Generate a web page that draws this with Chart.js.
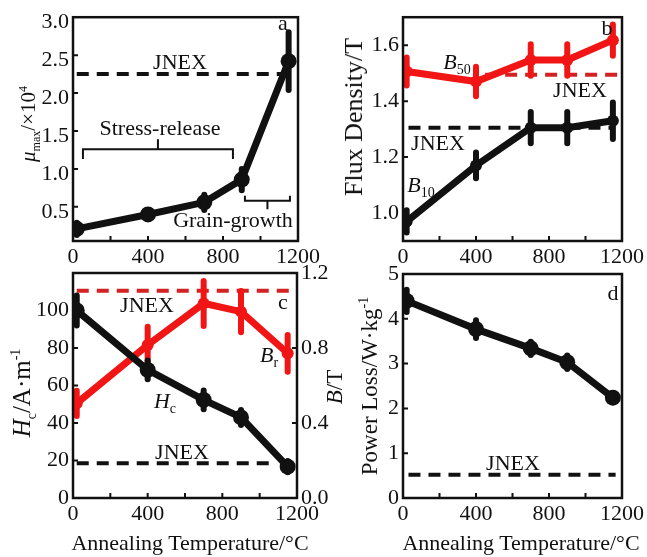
<!DOCTYPE html>
<html>
<head>
<meta charset="utf-8">
<script src="https://cdn.jsdelivr.net/npm/chart.js@4.4.0/dist/chart.umd.min.js"></script>
<style>
body { margin: 0; background: #fff; }
#wrap { position: relative; width: 647px; height: 557px; font-family: 'Liberation Serif', 'Times New Roman', serif; color: #111; }
canvas { position: absolute; left: 0; top: 0; }
.t { position: absolute; font-size: 22px; white-space: nowrap; line-height: 1; transform: translate(-50%, -50%); }
.v { transform: translate(-50%, -50%) rotate(-90deg); }
.t sub, .t sup { font-size: 14px; line-height: 0; }
.s sub, .s sup { font-size: 12px; }
i { font-style: italic; }
</style>
</head>
<body>
<div id="wrap">
  <canvas id="ca" width="647" height="557"></canvas>
  <canvas id="cb" width="647" height="557"></canvas>
  <canvas id="cc" width="647" height="557"></canvas>
  <canvas id="cd" width="647" height="557"></canvas>

  <!-- axis titles -->
  <div class="t v s" style="left:28px;top:124px;font-size:21px"><i>μ</i><sub>max</sub>/×10<sup>4</sup></div>
  <div class="t v" style="left:354px;top:117px;font-size:26px">Flux Density/T</div>
  <div class="t v" style="left:21px;top:393px;font-size:25px"><i>H</i><sub>c</sub>/A·m<sup>-1</sup></div>
  <div class="t v" style="left:334px;top:387px;font-size:23px"><i>B</i>/T</div>
  <div class="t v" style="left:369px;top:386px;font-size:23px">Power Loss/W·kg<sup>-1</sup></div>
  <div class="t" style="left:190px;top:543px">Annealing Temperature/°C</div>
  <div class="t" style="left:521px;top:543px">Annealing Temperature/°C</div>

  <!-- panel a -->
  <div class="t" style="left:180px;top:62px">JNEX</div>
  <div class="t" style="left:283px;top:23px">a</div>
  <div class="t" style="left:160px;top:128px">Stress-release</div>
  <div class="t" style="left:233px;top:220px">Grain-growth</div>

  <!-- panel b -->
  <div class="t" style="left:607px;top:28px">b</div>
  <div class="t" style="left:457px;top:62px"><i>B</i><sub>50</sub></div>
  <div class="t" style="left:580px;top:90px">JNEX</div>
  <div class="t" style="left:438px;top:143px">JNEX</div>
  <div class="t" style="left:421px;top:185px"><i>B</i><sub>10</sub></div>

  <!-- panel c -->
  <div class="t" style="left:147px;top:305px">JNEX</div>
  <div class="t" style="left:283px;top:302px">c</div>
  <div class="t" style="left:269px;top:355px"><i>B</i><sub>r</sub></div>
  <div class="t" style="left:165px;top:401px"><i>H</i><sub>c</sub></div>
  <div class="t" style="left:182px;top:452px">JNEX</div>

  <!-- panel d -->
  <div class="t" style="left:613px;top:293px">d</div>
  <div class="t" style="left:513px;top:463px">JNEX</div>
</div>

<script>
// annealing temperatures (°C)
const temps = [20, 400, 700, 900, 1150];
const xTicks = [0, 400, 800, 1200];
const xMinor = [200, 400, 600, 800, 1000];

// a: maximum permeability (x10^4)
const muMax = [0.21, 0.40, 0.56, 0.86, 2.42];
const muErr = [0.08, 0.06, 0.10, 0.14, 0.38];
const muJnex = 2.25;
const muJnexX = [20, 1160];
const muTicks = [0.5, 1.0, 1.5, 2.0, 2.5, 3.0];

// b: flux density (T)
const b10 = [0.97, 1.17, 1.305, 1.305, 1.33];
const b10Err = [0.04, 0.046, 0.056, 0.056, 0.065];
const b50 = [1.506, 1.47, 1.547, 1.547, 1.618];
const b50Err = [0.05, 0.053, 0.056, 0.056, 0.056];
const b10Jnex = 1.305;
const b10JnexX = [30, 1150];
const b50Jnex = 1.494;
const b50JnexX = [450, 1180];
const bTicks = [1.0, 1.2, 1.4, 1.6];

// c: coercivity (A/m) and remanence (T)
const hc = [100, 68.3, 52.3, 43, 16.7];
const hcErr = [8, 5, 5, 4, 3];
const br = [0.505, 0.816, 1.038, 0.994, 0.772];
const brErr = [0.067, 0.098, 0.12, 0.11, 0.098];
const hcJnex = 18.5;
const hcJnexX = [20, 1050];
const brJnex = 1.106;
const brJnexX = [20, 1200];
const hcTicks = [0, 20, 40, 60, 80, 100];
const brTicks = [0.0, 0.4, 0.8, 1.2];

// d: power loss (W/kg)
const loss = [4.40, 3.77, 3.34, 3.03, 2.24];
const lossErr = [0.25, 0.2, 0.15, 0.15, 0.1];
const lossJnex = 0.52;
const lossJnexX = [30, 1165];
const lossTicks = [0, 1, 2, 3, 4, 5];

const BLACK = '#111111';
const RED = '#f21515';
const RED_DASH = '#d42222';
const FONT = { family: "'Liberation Serif', 'Times New Roman', serif", size: 22 };
const W = 647, H = 557;
const Y_W = 60, Y1_W = 50, X_H = 30;

function pts(ys) {
  return temps.map((t, i) => ({ x: t, y: ys[i] }));
}

function series(ys, errs, color, axis, radius) {
  return {
    data: pts(ys), errs: errs, yAxisID: axis || 'y',
    borderColor: color, backgroundColor: color,
    borderWidth: 7, pointRadius: radius || 8, pointBorderWidth: 0
  };
}

function jnex(val, xs, color, axis) {
  return {
    data: [{ x: xs[0], y: val }, { x: xs[1], y: val }], yAxisID: axis || 'y',
    borderColor: color, borderWidth: 4, borderDash: [12, 8], pointRadius: 0
  };
}

// inward ticks, frame and error bars
const framePlugin = {
  id: 'frame',
  afterDatasetDraw(chart, args) {
    const ds = chart.data.datasets[args.index];
    if (!ds.errs) return;
    const ctx = chart.ctx, xs = chart.scales.x, ys = chart.scales[ds.yAxisID];
    ctx.save();
    ctx.strokeStyle = ds.borderColor;
    ctx.lineWidth = 6;
    ctx.lineCap = 'round';
    ds.data.forEach((p, j) => {
      const x = xs.getPixelForValue(p.x);
      ctx.beginPath();
      ctx.moveTo(x, ys.getPixelForValue(p.y - ds.errs[j]));
      ctx.lineTo(x, ys.getPixelForValue(p.y + ds.errs[j]));
      ctx.stroke();
    });
    ctx.restore();
  },
  afterDraw(chart) {
    const ctx = chart.ctx, a = chart.chartArea, s = chart.scales;
    const minor = chart.options.plugins.frame;
    ctx.save();
    ctx.strokeStyle = BLACK;
    ctx.lineWidth = 2;
    ctx.beginPath();
    (minor.x || []).forEach(v => {
      const x = s.x.getPixelForValue(v);
      ctx.moveTo(x, a.bottom); ctx.lineTo(x, a.bottom - 5);
    });
    (minor.y || []).forEach(v => {
      const y = s.y.getPixelForValue(v);
      ctx.moveTo(a.left, y); ctx.lineTo(a.left + 5, y);
    });
    (minor.y1 || []).forEach(v => {
      const y = s.y1.getPixelForValue(v);
      ctx.moveTo(a.right, y); ctx.lineTo(a.right - 5, y);
    });
    ctx.stroke();
    ctx.lineWidth = 2.5;
    ctx.strokeRect(a.left, a.top, a.width, a.height);
    (minor.brackets || []).forEach(b => {
      const x0 = s.x.getPixelForValue(b.x[0]), x1 = s.x.getPixelForValue(b.x[1]);
      const xm = s.x.getPixelForValue((b.x[0] + b.x[1]) / 2);
      const y = s.y.getPixelForValue(b.y), ye = s.y.getPixelForValue(b.yEnd), ym = s.y.getPixelForValue(b.yMid);
      ctx.lineWidth = 2;
      ctx.beginPath();
      ctx.moveTo(x0, ye); ctx.lineTo(x0, y); ctx.lineTo(x1, y); ctx.lineTo(x1, ye);
      ctx.moveTo(xm, y); ctx.lineTo(xm, ym);
      ctx.stroke();
    });
    ctx.restore();
  }
};

function fixedTicks(list) {
  return s => { s.ticks = list.map(v => ({ value: v })); };
}

function yScale(min, max, list, fmt, pos, shift) {
  return {
    type: 'linear', position: pos || 'left', min: min, max: max,
    grid: { display: false, drawTicks: false }, border: { display: false },
    afterBuildTicks: fixedTicks(list),
    afterFit: s => { s.width = pos === 'right' ? Y1_W : Y_W; },
    ticks: { color: BLACK, font: FONT, padding: 4, labelOffset: shift || 0, callback: fmt }
  };
}

function makePanel(id, area, datasets, yScales, frame) {
  const hasY1 = !!yScales.y1;
  const scales = Object.assign({
    x: {
      type: 'linear', min: 0, max: 1200,
      grid: { display: false, drawTicks: false }, border: { display: false },
      afterBuildTicks: fixedTicks(xTicks),
      afterFit: s => { s.height = X_H; },
      ticks: { color: BLACK, font: FONT, padding: 3, maxRotation: 0, callback: v => String(v) }
    }
  }, yScales);
  new Chart(document.getElementById(id), {
    type: 'line',
    data: { datasets: datasets },
    options: {
      responsive: false, animation: false, devicePixelRatio: 1,
      layout: { padding: {
        left: area[0] - Y_W, top: area[1],
        right: W - area[2] - (hasY1 ? Y1_W : 0), bottom: H - area[3] - X_H
      } },
      scales: scales,
      plugins: { legend: { display: false }, tooltip: { enabled: false }, frame: frame }
    },
    plugins: [framePlugin]
  });
}

const one = v => Number(v).toFixed(1);
const plain = v => String(v);

makePanel('ca', [73, 16, 298, 241], [
  jnex(muJnex, muJnexX, BLACK),
  series(muMax, muErr, BLACK)
], { y: yScale(0.05, 3.0, muTicks, one, 'left', 5) }, {
  x: xMinor, y: [0.5, 1.0, 1.5, 2.0, 2.5],
  brackets: [
    { x: [53, 853], y: 1.26, yEnd: 1.13, yMid: 1.39 },
    { x: [917, 1157], y: 0.58, yEnd: 0.645, yMid: 0.47 }
  ]
});

makePanel('cb', [403, 15, 630, 241], [
  series(b50, b50Err, RED, 'y', 6),
  series(b10, b10Err, BLACK, 'y', 6),
  jnex(b50Jnex, b50JnexX, RED_DASH),
  jnex(b10Jnex, b10JnexX, BLACK)
], { y: yScale(0.9, 1.7, bTicks, one) }, {
  x: xMinor, y: [1.0, 1.2, 1.4, 1.6]
});

makePanel('cc', [73, 273, 297, 498], [
  series(hc, hcErr, BLACK, 'y', 8),
  series(br, brErr, RED, 'y1', 6),
  jnex(brJnex, brJnexX, RED_DASH, 'y1'),
  jnex(hcJnex, hcJnexX, BLACK)
], {
  y: yScale(0, 120, hcTicks, plain),
  y1: yScale(0, 1.2, brTicks, one, 'right')
}, {
  x: xMinor, y: [20, 40, 60, 80, 100], y1: [0.4, 0.8]
});

makePanel('cd', [403, 274, 630, 498], [
  series(loss, lossErr, BLACK),
  jnex(lossJnex, lossJnexX, BLACK)
], { y: yScale(0, 5, lossTicks, plain) }, {
  x: xMinor, y: [1, 2, 3, 4]
});
</script>
</body>
</html>
